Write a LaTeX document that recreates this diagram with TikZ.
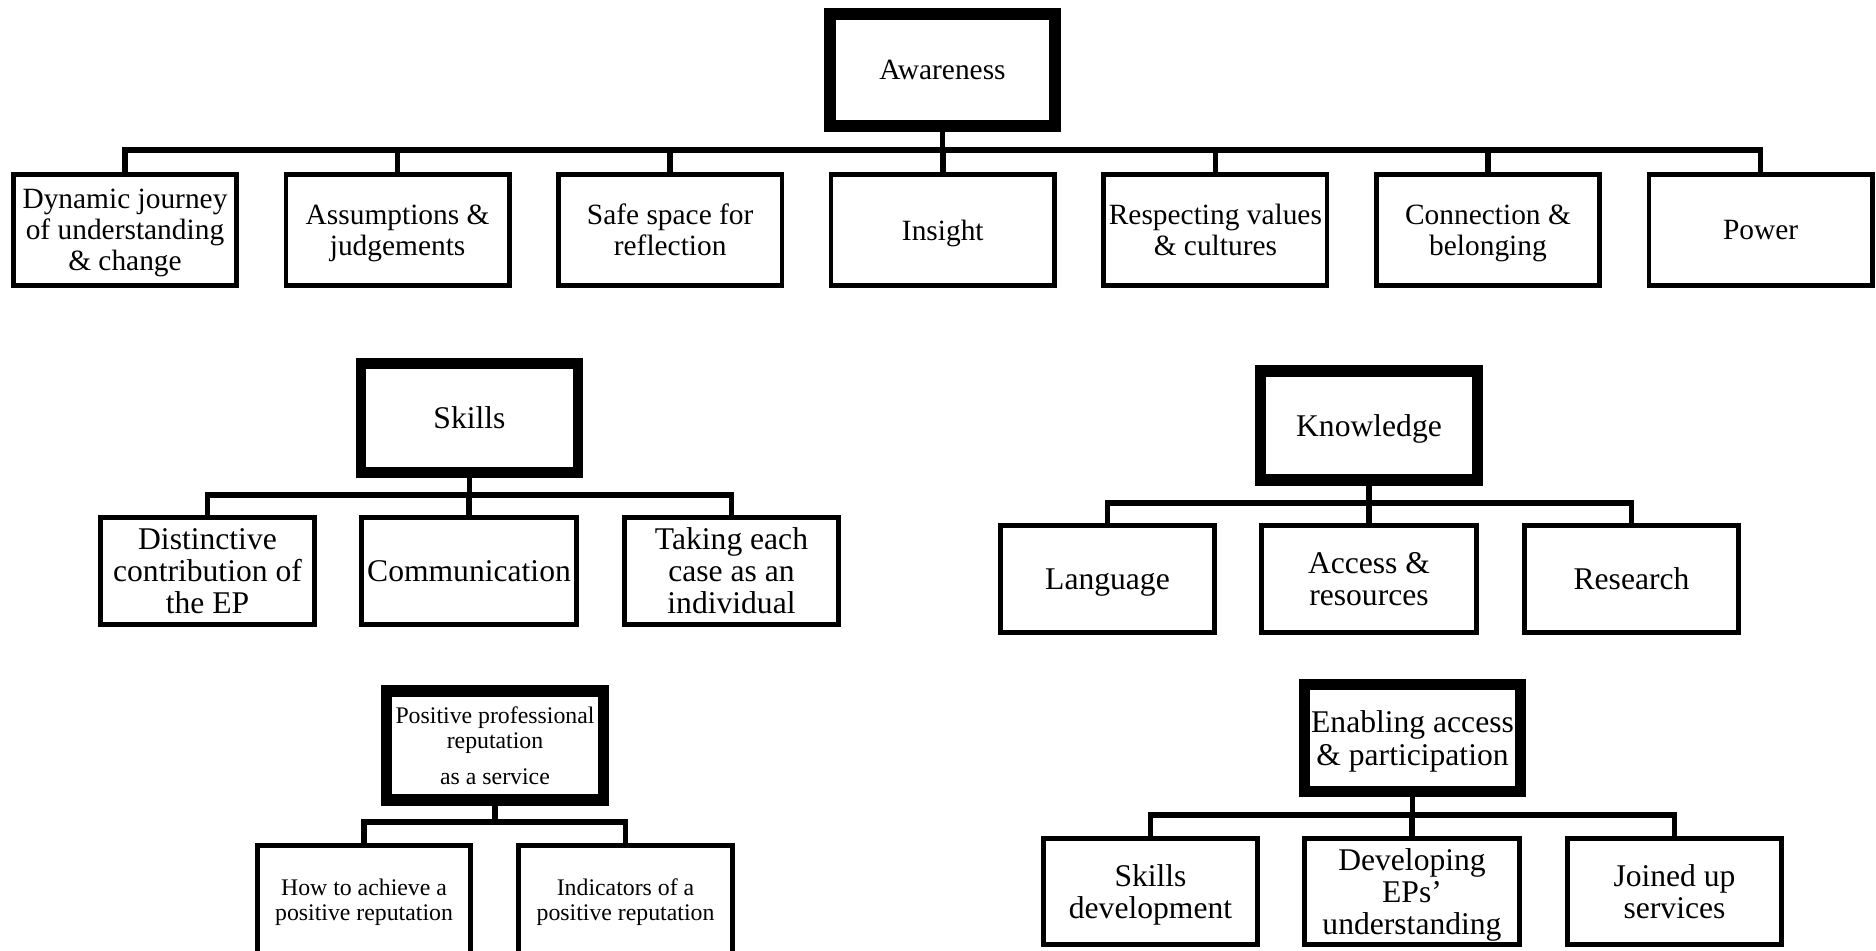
\documentclass[tikz,border=0pt]{standalone}
\usepackage{fontspec}
\setmainfont{Liberation Serif}
\begin{document}
\begin{tikzpicture}[x=0.5pt,y=-0.5pt,
  head/.style={draw,line width=5.6pt,inner sep=0pt,align=center,text depth=0pt,
    minimum width=108.5pt,minimum height=54.5pt},
  leaf/.style={draw,line width=2.3pt,inner sep=0pt,align=center,text depth=0pt,
    minimum width=107.25pt,minimum height=53.75pt},
  fa/.style={font=\fontsize{14.7}{15.5}\selectfont},
  fb/.style={font=\fontsize{15.8}{16}\selectfont},
  fc/.style={font=\fontsize{11.9}{12.5}\selectfont},
  conn/.style={draw,line width=2.8pt}]
\useasboundingbox (0,0) rectangle (1876,951);
\clip (0,0) rectangle (1876,951);

% Awareness
\node[head,fa,line width=6pt,minimum width=112.5pt,minimum height=56pt] (aw) at (942.5,70) {Awareness};
\node[leaf,fa,minimum width=111.75pt,minimum height=55.75pt] (a1) at (125,230) {Dynamic journey\\of understanding\\\& change};
\node[leaf,fa,minimum width=111.75pt,minimum height=55.75pt] (a2) at (397.6,230) {Assumptions \&\\judgements};
\node[leaf,fa,minimum width=111.75pt,minimum height=55.75pt] (a3) at (670.2,230) {Safe space for\\reflection};
\node[leaf,fa,minimum width=111.75pt,minimum height=55.75pt] (a4) at (942.8,230) {Insight};
\node[leaf,fa,minimum width=111.75pt,minimum height=55.75pt] (a5) at (1215.4,230) {Respecting values\\\& cultures};
\node[leaf,fa,minimum width=111.75pt,minimum height=55.75pt] (a6) at (1488,230) {Connection \&\\belonging};
\node[leaf,fa,minimum width=111.75pt,minimum height=55.75pt] (a7) at (1760.6,230) {Power};
\coordinate (awbus) at (0,150);
\foreach \c in {a1,a2,a3,a4,a5,a6,a7}
  \draw[conn] (aw.south) -- (aw.south |- awbus) -| (\c.north);

% Skills
\node[head,fb,line width=5.3pt] (sk) at (469.5,418) {Skills};
\node[leaf,fb] (s1) at (207.5,571) {Distinctive\\contribution of\\the EP};
\node[leaf,fb] (s2) at (469,571) {Communication};
\node[leaf,fb] (s3) at (731.5,571) {Taking each\\case as an\\individual};
\coordinate (skbus) at (0,495);
\foreach \c in {s1,s2,s3}
  \draw[conn] (sk.south) -- (sk.south |- skbus) -| (\c.north);

% Knowledge
\node[head,fb,line width=5.8pt,minimum height=54.75pt] (kn) at (1369,425.5) {Knowledge};
\node[leaf,fb] (k1) at (1107.5,579) {Language};
\node[leaf,fb] (k2) at (1369,579) {Access \&\\resources};
\node[leaf,fb] (k3) at (1631.5,579) {Research};
\coordinate (knbus) at (0,503);
\foreach \c in {k1,k2,k3}
  \draw[conn] (kn.south) -- (kn.south |- knbus) -| (\c.north);

% Positive professional reputation
\node[head,fc,line width=5.8pt,minimum height=54.75pt] (pr) at (495,745.5) {Positive professional\\reputation\\[5.5pt]as a service};
\node[leaf,fc,minimum width=106.75pt,minimum height=54.25pt] (p1) at (364,899.5) {How to achieve a\\positive reputation};
\node[leaf,fc,minimum width=107.25pt,minimum height=54.25pt] (p2) at (625.5,899.5) {Indicators of a\\positive reputation};
\coordinate (prbus) at (0,822);
\foreach \c in {p1,p2}
  \draw[conn] (pr.south) -- (pr.south |- prbus) -| (\c.north);

% Enabling access & participation
\node[head,fb,line width=5.5pt,minimum width=108pt,minimum height=53.5pt,
  font=\fontsize{15.8}{16.5}\selectfont] (en) at (1412.5,738) {Enabling access\\\& participation};
\node[leaf,fb,minimum height=53.25pt] (e1) at (1150.5,891.5) {Skills\\development};
\node[leaf,fb,minimum height=53.25pt] (e2) at (1412,891.5) {Developing\\EPs’\\understanding};
\node[leaf,fb,minimum height=53.25pt] (e3) at (1674.5,891.5) {Joined up\\services};
\coordinate (enbus) at (0,815);
\foreach \c in {e1,e2,e3}
  \draw[conn] (en.south) -- (en.south |- enbus) -| (\c.north);
\end{tikzpicture}
\end{document}
